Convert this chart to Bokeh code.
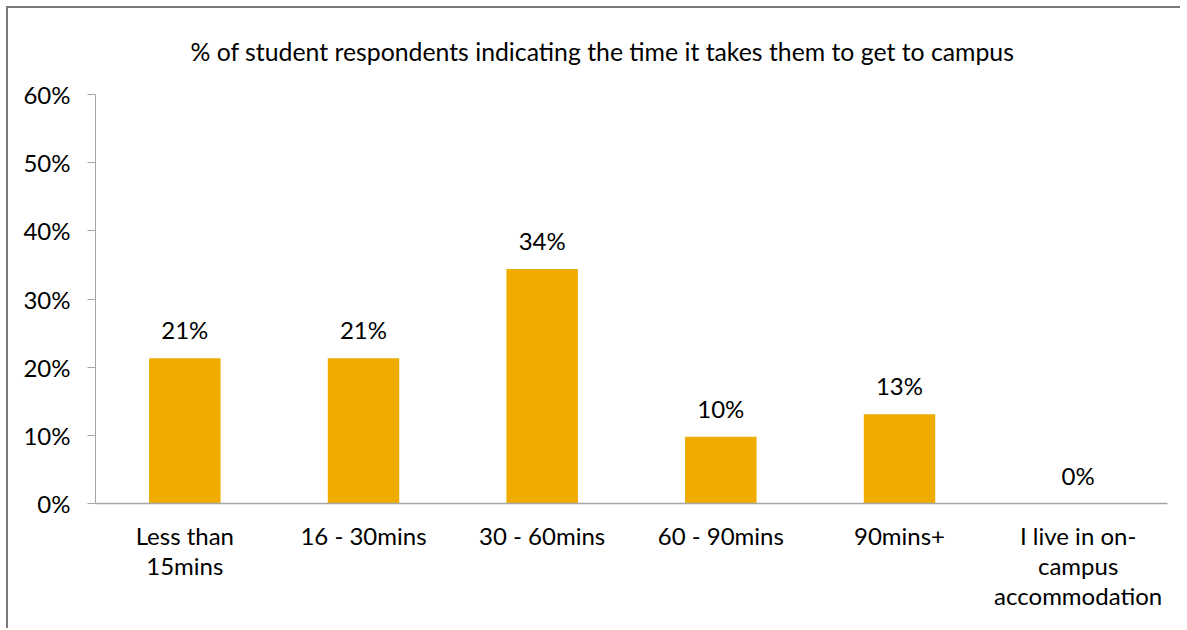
from bokeh.plotting import figure
from bokeh.layouts import column
from bokeh.models import ColumnDataSource, LabelSet, NumeralTickFormatter, FixedTicker, Range1d
from bokeh.core.properties import value
from bokeh.embed import file_html
from bokeh.resources import INLINE

categories = ["Less than\n15mins", "16 - 30mins", "30 - 60mins", "60 - 90mins", "90mins+",
              "I live in on-\ncampus\naccommodation"]
values = [0.213, 0.213, 0.344, 0.098, 0.131, 0.0]
value_labels = ["21%", "21%", "34%", "10%", "13%", "0%"]
y_ticks = [0, 0.1, 0.2, 0.3, 0.4, 0.5, 0.6]
title_text = "% of student respondents indicating the time it takes them to get to campus"

FONT = "Lato"
source = ColumnDataSource(dict(cat=categories, val=values, lab=value_labels))

p = figure(x_range=categories, y_range=Range1d(0, 0.6), width=1172, height=620,
           output_backend="svg", toolbar_location=None, title=title_text,
           min_border_left=87, min_border_right=13, min_border_top=86, min_border_bottom=125)
p.border_fill_color = "white"

p.vbar(x="cat", top="val", width=0.4, source=source, color="#F0AB00", line_color=None)

labels = LabelSet(x="cat", y="val", text="lab", source=source, text_align="center",
                  text_baseline="alphabetic", y_offset=19, text_font=value(FONT),
                  text_font_size="24px", text_color="#000000")
p.add_layout(labels)

p.title.align = "left"
p.title.offset = 95
p.title.vertical_align = "top"
p.title.standoff = 54
p.title.text_font = FONT
p.title.text_font_size = "24.8px"
p.title.text_font_style = "normal"
p.title.text_color = "#000000"

p.xgrid.visible = False
p.ygrid.visible = False
p.outline_line_color = None

p.yaxis.ticker = FixedTicker(ticks=y_ticks)
p.yaxis.formatter = NumeralTickFormatter(format="0%")
p.yaxis.major_tick_in = 0
p.yaxis.major_tick_out = 8
p.yaxis.minor_tick_line_color = None
p.yaxis.axis_line_color = "#a6a6a6"
p.yaxis.major_tick_line_color = "#a6a6a6"
p.yaxis.major_label_standoff = 17
p.yaxis.major_label_text_font = FONT
p.yaxis.major_label_text_font_size = "24px"
p.yaxis.major_label_text_color = "#000000"

p.xaxis.major_tick_line_color = None
p.xaxis.minor_tick_line_color = None
p.xaxis.axis_line_color = "#A6A6A6"
p.xaxis.axis_line_width = 1.5
p.xaxis.major_label_standoff = 11
p.xaxis.major_label_text_font = FONT
p.xaxis.major_label_text_font_size = "24px"
p.xaxis.major_label_text_line_height = 1.05
p.xaxis.major_label_text_color = "#000000"

p.x_range.range_padding = 0

layout = column(p, styles={"border-top": "2px solid #7a7a7a", "border-left": "2px solid #7a7a7a",
                           "margin-left": "6px", "margin-top": "6px"})

open("out.html", "w").write(file_html(layout, INLINE))
